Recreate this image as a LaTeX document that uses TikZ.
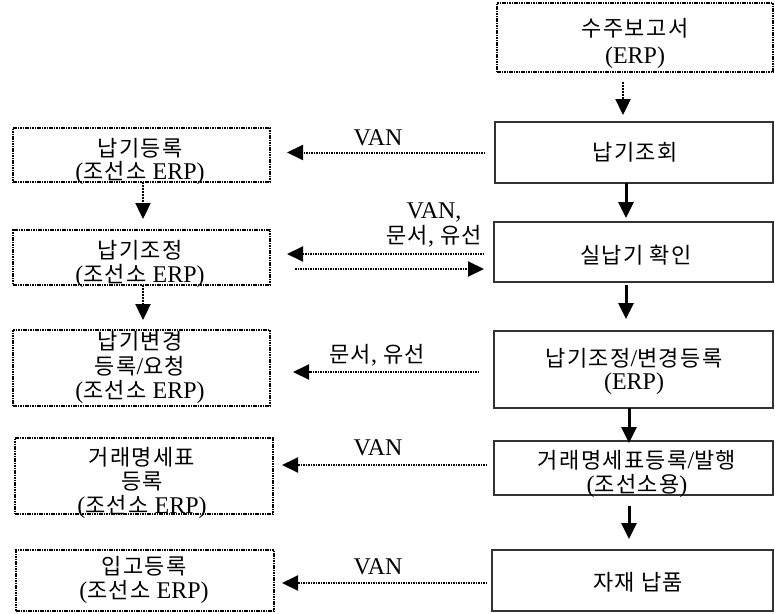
\documentclass[tikz,border=0pt]{standalone}
\usepackage{fontspec}
\setmainfont[Scale=1.09]{Liberation Serif}
\newfontfamily\krfont[LetterSpace=6]{Noto Sans CJK KR}
\usetikzlibrary{arrows.meta}
\lineskiplimit=-100pt

\begin{document}
\begin{tikzpicture}[x=1pt,y=-1pt,
  every node/.style={inner sep=0pt, outer sep=0pt},
  solidbox/.style={draw=black!80, line width=1.4pt, rectangle},
  dotbox/.style={draw=black, line width=1.6pt, dash pattern=on 1.6pt off 0.8pt, rectangle},
  txt/.style={align=center, font=\fontsize{22}{24}\selectfont},
  lbl/.style={align=center, font=\fontsize{22}{25}\selectfont},
  tip/.style={-{Triangle[length=16pt,width=15pt]}},
  flow/.style={tip, line width=3pt},
  dotflow/.style={tip, line width=2.4pt, dash pattern=on 2pt off 1pt},
  hflow/.style={tip, line width=2pt, dash pattern=on 1.5pt off 1pt},
]
\useasboundingbox (0,0) rectangle (775,613);

% right column: supplier side
\node[dotbox,   minimum width=276pt, minimum height=69pt] (r0) at (635,37.5) {};
\node[solidbox, minimum width=278pt, minimum height=61pt] (r1) at (634,152.5) {};
\node[solidbox, minimum width=279pt, minimum height=60pt] (r2) at (633.5,252) {};
\node[solidbox, minimum width=279pt, minimum height=77pt] (r3) at (633.5,369.5) {};
\node[solidbox, minimum width=279pt, minimum height=54pt] (r4) at (633.5,468) {};
\node[solidbox, minimum width=281pt, minimum height=61pt] (r5) at (632.5,580.5) {};

% left column: shipyard side
\node[dotbox, minimum width=257pt, minimum height=54pt] (l1) at (141.5,155) {};
\node[dotbox, minimum width=257pt, minimum height=55pt] (l2) at (141.5,257.5) {};
\node[dotbox, minimum width=257pt, minimum height=76pt] (l3) at (141.5,368) {};
\node[dotbox, minimum width=258pt, minimum height=76pt] (l4) at (144,476) {};
\node[dotbox, minimum width=258pt, minimum height=61pt] (l5) at (145,580.5) {};

% box texts
\node[txt, font=\fontsize{22}{27}\selectfont] (t0) at (635,43.5) {{\krfont 수주보고서}\\(ERP)};
\node[txt] (t1) at (635,152) {\krfont 납기조회};
\node[txt] (t2) at (636,255) {\krfont 실납기 확인};
\node[txt, font=\fontsize{22}{23}\selectfont] (t3) at (634,371) {{\krfont 납기조정}/{\krfont 변경등록}\\(ERP)};
\node[txt] (t4) at (637,474) {{\krfont 거래명세표등록}/{\krfont 발행}\\({\krfont 조선소용})};
\node[txt] (t5) at (638,582) {\krfont 자재 납품};

\node[txt, font=\fontsize{22}{23}\selectfont] (t6) at (140,161) {{\krfont 납기등록}\\({\krfont 조선소} ERP)};
\node[txt] (t7) at (140,264) {{\krfont 납기조정}\\({\krfont 조선소} ERP)};
\node[txt, font=\fontsize{22}{24.5}\selectfont] (t8) at (140,367.5) {{\krfont 납기변경}\\{\krfont 등록}/{\krfont 요청}\\({\krfont 조선소} ERP)};
\node[txt, font=\fontsize{22}{24}\selectfont] (t9) at (142,482.5) {{\krfont 거래명세표}\\{\krfont 등록}\\({\krfont 조선소} ERP)};
\node[txt] (t10) at (144,579.5) {{\krfont 입고등록}\\({\krfont 조선소} ERP)};

% vertical flow on the right
\draw[dotflow, shorten <=10pt, shorten >=7pt] ([xshift=-12pt]r0.south) -- ([xshift=-11pt]r1.north);
\draw[flow, shorten >=4pt] ([xshift=-8pt]r1.south) -- ([xshift=-7.5pt]r2.north);
\draw[flow, shorten <=3pt, shorten >=12pt] ([xshift=-7.5pt]r2.south) -- ([xshift=-7.5pt]r3.north);
\draw[flow, shorten >=-2pt] ([xshift=-4.5pt]r3.south) -- ([xshift=-4.5pt]r4.north);
\draw[flow, shorten <=11pt, shorten >=11pt] ([xshift=-4.5pt]r4.south) -- ([xshift=-3.5pt]r5.north);

% vertical flow on the left
\draw[dotflow, shorten >=11pt] ([xshift=1.5pt]l1.south) -- ([xshift=1.5pt]l2.north);
\draw[dotflow, shorten >=10pt] ([xshift=1.5pt]l2.south) -- ([xshift=1.5pt]l3.north);

% exchanges between the two sides
\draw[hflow, shorten <=10pt, shorten >=17pt] (r1.west) -- (r1.west -| l1.east);
\draw[hflow, shorten <=10pt, shorten >=17pt] ([yshift=-2pt]r2.west) -- ([yshift=-2pt]r2.west -| l2.east);
\draw[hflow, shorten <=25pt, shorten >=10pt] ([yshift=-17pt]r2.west -| l2.east) -- ([yshift=-17pt]r2.west);
\draw[hflow, shorten <=15pt, shorten >=23pt] ([yshift=-2.5pt]r3.west) -- ([yshift=-2.5pt]r3.west -| l3.east);
\draw[hflow, shorten <=7pt, shorten >=9pt] ([yshift=3pt]r4.west) -- ([yshift=3pt]r4.west -| l4.east);
\draw[hflow, shorten <=5pt, shorten >=8pt] ([yshift=-2.5pt]r5.west) -- ([yshift=-2.5pt]r5.west -| l5.east);

% channel labels
\node[lbl] (c1) at (378,138) {VAN};
\node[lbl] (c2) at (434,225) {VAN,\\{\krfont 문서}, {\krfont 유선}};
\node[lbl] (c3) at (377,355) {{\krfont 문서}, {\krfont 유선}};
\node[lbl] (c4) at (378,448) {VAN};
\node[lbl] (c5) at (378,567) {VAN};
\end{tikzpicture}
\end{document}
